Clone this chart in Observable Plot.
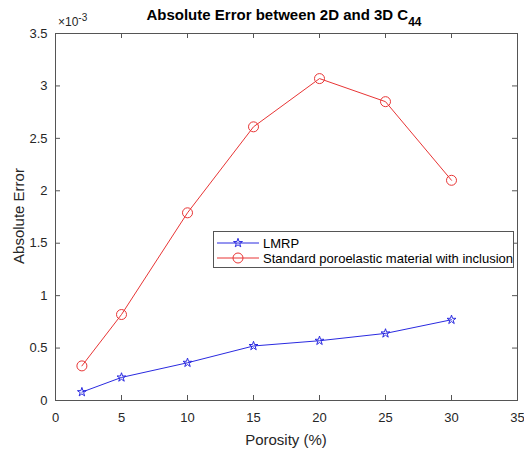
<!DOCTYPE html>
<html><head><meta charset="utf-8">
<script src="https://cdn.jsdelivr.net/npm/d3@7"></script>
<script src="https://cdn.jsdelivr.net/npm/@observablehq/plot@0.6"></script>
<style>
body{margin:0;background:#fff;font-family:"Liberation Sans",Arial,Helvetica,sans-serif;}
#wrap{position:relative;width:524px;height:449px;overflow:hidden;}
.ov{position:absolute;color:#262626;white-space:nowrap;}
#title{left:0;width:568px;top:6px;text-align:center;font-weight:bold;font-size:15px;color:#000;}
#title sub{font-size:12px;vertical-align:-6px;line-height:0;}
#expo{left:58px;top:15px;font-size:12px;}
#expo sup{font-size:10px;vertical-align:5px;line-height:0;}
#ylab{left:18px;top:216px;font-size:15px;transform:translate(-50%,-50%) rotate(-90deg);}
#xlab{left:286px;top:439px;font-size:15px;transform:translate(-50%,-50%);}
#legend{left:213px;top:231px;width:299px;height:35px;border:1px solid #555;background:#fff;font-size:13px;color:#000;}
.lrow{position:absolute;left:0;height:16px;display:flex;align-items:center;}
.lrow svg{margin-left:3px;margin-right:4px;}
</style></head><body><div id="wrap"></div>
<script>
const porosity = [2, 5, 10, 15, 20, 25, 30];
const lmrp = [0.08, 0.22, 0.36, 0.52, 0.57, 0.64, 0.77];
const standard = [0.33, 0.82, 1.79, 2.61, 3.07, 2.85, 2.10];
const xTicks = [0, 5, 10, 15, 20, 25, 30, 35];
const yTicks = [0, 0.5, 1, 1.5, 2, 2.5, 3, 3.5];
const yTickLabels = ["0", "0.5", "1", "1.5", "2", "2.5", "3", "3.5"];
const seriesNames = ["LMRP", "Standard poroelastic material with inclusion"];
const seriesColors = ["#2a2ae0", "#e83535"];

const rowsA = porosity.map((x, i) => ({x, y: lmrp[i], s: seriesNames[0]}));
const rowsB = porosity.map((x, i) => ({x, y: standard[i], s: seriesNames[1]}));

const W = 524, H = 449, mt = 33, mr = 7, mb = 49, ml = 55;
const fw = W - ml - mr, fh = H - mt - mb, tk = 5;
const axisColor = "#555";
const starR = 2.8, circR = 5;

const chart = Plot.plot({
  width: W, height: H,
  marginTop: mt, marginRight: mr, marginBottom: mb, marginLeft: ml,
  style: {fontFamily: '"Liberation Sans", Arial, Helvetica, sans-serif', fontSize: "13px", color: "#262626", background: "#fff"},
  x: {domain: [0, 35]},
  y: {domain: [0, 3.5]},
  color: {domain: seriesNames, range: seriesColors},
  marks: [
    Plot.frame({stroke: axisColor}),
    Plot.tickX(xTicks, {x: d => d, insetTop: fh - tk, stroke: axisColor}),
    Plot.tickX(xTicks, {x: d => d, insetBottom: fh - tk, stroke: axisColor}),
    Plot.tickY(yTicks, {y: d => d, insetRight: fw - tk, stroke: axisColor}),
    Plot.tickY(yTicks, {y: d => d, insetLeft: fw - tk, stroke: axisColor}),
    Plot.axisX({ticks: xTicks, tickSize: 0, tickPadding: 12, label: null, tickFormat: d => String(d)}),
    Plot.axisY({ticks: yTicks, tickSize: 0, tickPadding: 8, label: null, tickFormat: d => yTickLabels[yTicks.indexOf(d)]}),
    Plot.line(rowsA, {x: "x", y: "y", stroke: "s", strokeWidth: 1}),
    Plot.line(rowsB, {x: "x", y: "y", stroke: "s", strokeWidth: 1}),
    Plot.dot(rowsA, {x: "x", y: "y", stroke: "s", symbol: "star", r: starR, fill: "none", strokeWidth: 1}),
    Plot.dot(rowsB, {x: "x", y: "y", stroke: "s", symbol: "circle", r: circR, fill: "none", strokeWidth: 1})
  ]
});

const wrap = document.getElementById("wrap");
wrap.appendChild(chart);

function ov(id, html) {
  const d = document.createElement("div");
  d.className = "ov"; d.id = id; d.innerHTML = html;
  wrap.appendChild(d);
  return d;
}
ov("title", "Absolute Error between 2D and 3D C<sub>44</sub>");
ov("expo", "×10<sup>-3</sup>");
ov("ylab", "Absolute Error");
ov("xlab", "Porosity (%)");
const leg = ov("legend", "");
seriesNames.forEach((name, i) => {
  const row = document.createElement("div");
  row.className = "lrow";
  row.style.top = (i === 0 ? 3 : 18) + "px";
  const r = i === 0 ? starR : circR;
  const sym = d3.symbol(i === 0 ? d3.symbolStar : d3.symbolCircle, Math.PI * r * r)();
  row.innerHTML = `<svg width="42" height="14"><line x1="0" x2="42" y1="7" y2="7" stroke="${seriesColors[i]}" stroke-width="1"/><path d="${sym}" transform="translate(21,7)" fill="none" stroke="${seriesColors[i]}"/></svg><span>${name}</span>`;
  leg.appendChild(row);
});
</script>
</body></html>
